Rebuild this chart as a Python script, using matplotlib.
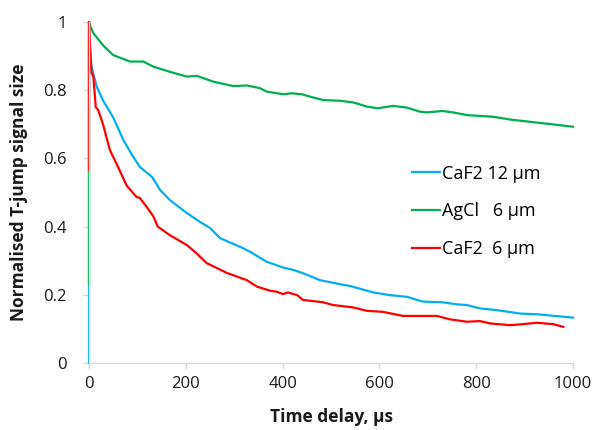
import numpy as np
import matplotlib
matplotlib.use('Agg')
import matplotlib.pyplot as plt

plt.rcParams['font.family'] = ['Open Sans', 'DejaVu Sans']

########## data
caf2_12_x = [0, 0, 5, 16, 29, 50, 71, 89, 105, 130, 147, 167, 202, 229, 250, 271, 318, 333, 367, 401,
             422, 443, 477, 519, 539, 587, 622, 657, 690, 731, 760, 781, 808, 843, 890, 925, 1000]
caf2_12_y = [0, 0.97, 0.87, 0.81, 0.77, 0.72, 0.654, 0.61, 0.575, 0.546, 0.507, 0.478, 0.44, 0.414, 0.396,
             0.366, 0.337, 0.326, 0.297, 0.28, 0.273, 0.263, 0.243, 0.231, 0.226, 0.207, 0.199, 0.194, 0.18,
             0.178, 0.172, 0.17, 0.16, 0.155, 0.145, 0.143, 0.133]

agcl_6_x = [0, 0, 2, 9, 30, 50, 85, 112, 133, 167, 202, 223, 257, 298, 326, 353, 367, 401, 419, 440, 457,
            484, 519, 546, 574, 597, 628, 657, 684, 698, 731, 752, 781, 835, 870, 938, 1000]
agcl_6_y = [0.23, 1.0, 0.99, 0.967, 0.93, 0.903, 0.884, 0.884, 0.869, 0.854, 0.84, 0.842, 0.825, 0.812,
            0.814, 0.806, 0.796, 0.788, 0.791, 0.788, 0.781, 0.771, 0.769, 0.764, 0.752, 0.747, 0.754, 0.749,
            0.737, 0.735, 0.739, 0.735, 0.727, 0.722, 0.714, 0.703, 0.693]

caf2_6_x = [0, 0, 3, 5.5, 9, 14, 19, 29, 43, 60, 78, 98, 105, 119, 133, 142, 167, 202, 222, 243, 285, 326,
            347, 374, 388, 401, 411, 430, 442, 484, 504, 546, 574, 607, 649, 684, 719, 746, 781, 808, 829,
            870, 897, 925, 959, 980]
caf2_6_y = [0.566, 1.0, 0.9, 0.85, 0.84, 0.75, 0.742, 0.70, 0.625, 0.575, 0.52, 0.487, 0.484, 0.458, 0.43,
            0.40, 0.375, 0.346, 0.322, 0.293, 0.264, 0.243, 0.224, 0.212, 0.209, 0.202, 0.207, 0.199, 0.185,
            0.178, 0.17, 0.163, 0.153, 0.15, 0.138, 0.138, 0.138, 0.128, 0.121, 0.123, 0.116, 0.111, 0.114,
            0.118, 0.114, 0.106]

labels = ['CaF2 12 µm', 'AgCl   6 µm', 'CaF2  6 µm']
colors = ['#00B0F0', '#00B050', '#FF0000']

fig = plt.figure(figsize=(5.95, 4.3), dpi=100)
ax = fig.add_axes([89/595, 67/430, 484/595, 341/430])

ax.plot(caf2_12_x, caf2_12_y, color=colors[0], lw=1.6, label=labels[0], clip_on=False)
ax.plot(agcl_6_x, agcl_6_y, color=colors[1], lw=1.6, label=labels[1], clip_on=False)
ax.plot(caf2_6_x, caf2_6_y, color=colors[2], lw=1.6, label=labels[2], clip_on=False)

ax.set_xlim(0, 1000)
ax.set_ylim(0, 1)
ax.set_xticks(np.arange(0, 1001, 200))
ax.set_yticks([0, 0.2, 0.4, 0.6, 0.8, 1])
ax.set_yticklabels(['0', '0.2', '0.4', '0.6', '0.8', '1'])

for s in ['top', 'right']:
    ax.spines[s].set_visible(False)
for s in ['left', 'bottom']:
    ax.spines[s].set_color('#D9D9D9')
    ax.spines[s].set_linewidth(1)
ax.tick_params(axis='both', colors='#D9D9D9', labelcolor='#1a1a1a', labelsize=12, length=4, width=1)
ax.tick_params(axis='x', pad=5)
ax.tick_params(axis='y', pad=12)

ax.set_xlabel('Time delay, µs', fontsize=12.5, fontweight='bold', color='#1a1a1a', labelpad=12)
ax.set_ylabel('Normalised T-jump signal size', fontsize=12.5, fontweight='bold', color='#1a1a1a', labelpad=11)

ax.legend(loc='upper left', bbox_to_anchor=(0.668, 0.582), frameon=False, fontsize=13,
          handlelength=1.55, handletextpad=0.12, labelspacing=1.1, borderpad=0, borderaxespad=0)

fig.savefig('out.png', dpi=100)
